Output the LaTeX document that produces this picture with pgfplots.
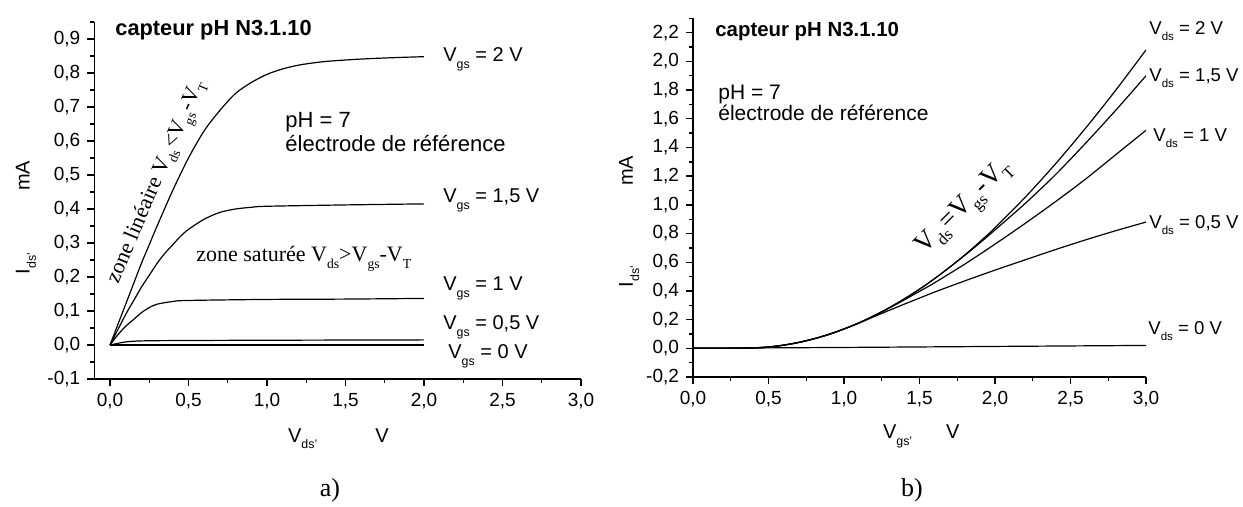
\documentclass[border=0pt]{standalone}
\usepackage{graphicx}
\usepackage{pgfplots}
\pgfplotsset{compat=1.18}
\usepackage{fontspec}
\setmainfont{Liberation Sans}
\newfontfamily\tms{Liberation Serif}
\newcommand{\sub}[1]{\raisebox{-0.6ex}{\scalebox{0.62}{#1}}}
\newcommand{\fs}[1]{\fontsize{#1}{#1}\selectfont}

\pgfplotsset{
  panel/.style={
    scale only axis, anchor=south west,
    axis x line*=bottom, axis y line*=left,
    tick align=outside, major tick length=3.5pt, minor tick length=2pt,
    every tick/.style={black, line width=0.7pt},
    axis line style={black, line width=0.75pt},
    tick label style={font=\fs{9.5}},
    label style={font=\fs{10}},
    /pgf/number format/fixed,
    /pgf/number format/fixed zerofill,
    /pgf/number format/precision=1,
    /pgf/number format/use comma,
    /pgf/number format/assume math mode=true,
  },
  curve/.style={black, line width=0.6pt, no marks, smooth},
}

\begin{document}
\begin{tikzpicture}[x=0.5pt,y=0.5pt, ann/.style={anchor=base west, inner sep=0pt}]
\useasboundingbox (0,0) rectangle (1243,507);

% a) output characteristics
\begin{axis}[panel, at={(47.15pt,64pt)}, width=243.35pt, height=178.5pt,
  xmin=-0.1, xmax=3, ymin=-0.1, ymax=0.95,
  xtick={0,0.5,1,1.5,2,2.5,3},
  ytick={-0.1,0,0.1,0.2,0.3,0.4,0.5,0.6,0.7,0.8,0.9},
  minor xtick={0.25,0.75,1.25,1.75,2.25,2.75},
  minor ytick={-0.05,0.05,0.15,0.25,0.35,0.45,0.55,0.65,0.75,0.85,0.95},
  xlabel={V\sub{ds’}\hspace{29pt}V},
  ylabel={I\sub{ds’}\hspace{31pt}mA},
  xlabel style={at={(axis description cs:0.5015,-0.1676)}, anchor=center},
  ylabel style={at={(axis description cs:-0.1405,0.4525)}, anchor=center},
]
% Vgs = 2 V
\addplot[curve] coordinates {(0,0) (0.05,0.06) (0.1,0.12) (0.15,0.18) (0.2,0.24) (0.25,0.295) (0.3,0.35) (0.4,0.455) (0.5,0.55) (0.6,0.63) (0.7,0.69) (0.8,0.74) (0.9,0.772) (1.0,0.796) (1.1,0.812) (1.2,0.823) (1.3,0.83) (1.4,0.835) (1.6,0.841) (1.8,0.845) (2.0,0.848)};
% Vgs = 1.5 V
\addplot[curve] coordinates {(0,0) (0.05,0.045) (0.1,0.09) (0.15,0.13) (0.2,0.17) (0.25,0.205) (0.3,0.24) (0.35,0.27) (0.4,0.295) (0.45,0.32) (0.5,0.34) (0.6,0.37) (0.7,0.39) (0.8,0.40) (0.9,0.405) (1.0,0.408) (1.5,0.412) (2.0,0.415)};
% Vgs = 1 V
\addplot[curve] coordinates {(0,0) (0.05,0.03) (0.1,0.055) (0.15,0.075) (0.2,0.095) (0.25,0.11) (0.3,0.12) (0.4,0.128) (0.5,0.131) (1.0,0.134) (1.5,0.135) (2.0,0.137)};
% Vgs = 0.5 V
\addplot[curve] coordinates {(0,0) (0.1,0.009) (0.2,0.012) (0.4,0.013) (1.0,0.014) (2.0,0.015)};
% Vgs = 0 V
\addplot[curve] coordinates {(0,0) (1.0,0.0) (2.0,0.0)};
\end{axis}

% b) transfer characteristics
\begin{axis}[panel, at={(346.5pt,65pt)}, width=226.5pt, height=179.3pt,
  xmin=0, xmax=3, ymin=-0.2, ymax=2.3,
  xtick={0,0.5,1,1.5,2,2.5,3},
  ytick={-0.2,0,0.2,0.4,0.6,0.8,1.0,1.2,1.4,1.6,1.8,2.0,2.2},
  minor xtick={0.25,0.75,1.25,1.75,2.25,2.75},
  minor ytick={-0.1,0.1,0.3,0.5,0.7,0.9,1.1,1.3,1.5,1.7,1.9,2.1,2.3},
  xlabel={V\sub{gs’}\hspace{17pt}V},
  ylabel={I\sub{ds’}\hspace{40pt}mA},
  xlabel style={at={(axis description cs:0.504,-0.1657)}, anchor=center},
  ylabel style={at={(axis description cs:-0.141,0.4337)}, anchor=center},
]
% Vds = 2 V
\addplot[curve] coordinates {(0,0) (0.2,0) (0.3,0.001) (0.4,0.003) (0.5,0.009) (0.6,0.022) (0.7,0.041) (0.8,0.066) (0.9,0.097) (1.0,0.135) (1.1,0.178) (1.2,0.2275) (1.3,0.283) (1.4,0.345) (1.5,0.412) (1.6,0.486) (1.7,0.5655) (1.8,0.651) (1.9,0.743) (2.0,0.8405) (2.2,1.053) (2.4,1.285) (2.6,1.535) (2.8,1.80) (3.0,2.08)};
% Vds = 1.5 V
\addplot[curve] coordinates {(0,0) (0.2,0) (0.3,0.001) (0.4,0.003) (0.5,0.009) (0.6,0.022) (0.7,0.041) (0.8,0.066) (0.9,0.097) (1.0,0.135) (1.1,0.178) (1.2,0.2275) (1.3,0.283) (1.4,0.345) (1.5,0.412) (1.6,0.486) (1.7,0.5655) (1.8,0.648) (1.9,0.735) (2.0,0.825) (2.2,1.01) (2.4,1.21) (2.6,1.43) (2.8,1.66) (3.0,1.90)};
% Vds = 1 V
\addplot[curve] coordinates {(0,0) (0.2,0) (0.3,0.001) (0.4,0.003) (0.5,0.009) (0.6,0.022) (0.7,0.041) (0.8,0.066) (0.9,0.097) (1.0,0.135) (1.1,0.178) (1.2,0.2275) (1.3,0.281) (1.4,0.338) (1.5,0.397) (1.6,0.457) (1.8,0.587) (2.0,0.726) (2.2,0.871) (2.4,1.022) (2.6,1.18) (2.8,1.35) (3.0,1.52)};
% Vds = 0.5 V
\addplot[curve] coordinates {(0,0) (0.2,0) (0.3,0.001) (0.4,0.003) (0.5,0.009) (0.6,0.022) (0.7,0.041) (0.8,0.066) (0.9,0.097) (1.0,0.134) (1.1,0.176) (1.2,0.221) (1.3,0.265) (1.4,0.308) (1.6,0.392) (1.8,0.47) (2.0,0.545) (2.2,0.617) (2.4,0.688) (2.6,0.756) (2.8,0.82) (3.0,0.88)};
% Vds = 0 V
\addplot[curve] coordinates {(0,0) (1.0,0.006) (2.0,0.013) (3.0,0.02)};
\end{axis}

% annotations, panel a)
\node[ann, font=\bfseries\fs{10.9}] at (115,471) {capteur pH N3.1.10};
\node[ann, font=\fs{11}] at (285,379) {pH = 7};
\node[ann, font=\fs{11}] at (285,355) {électrode de référence};
\begin{scope}[every node/.style={ann, font=\fs{10}}]
\node at (443,445) {V\sub{gs} = 2 V};
\node at (443,304) {V\sub{gs} = 1,5 V};
\node at (443,216) {V\sub{gs} = 1 V};
\node at (443,177) {V\sub{gs} = 0,5 V};
\node at (448,148) {V\sub{gs} = 0 V};
\end{scope}
\node[ann, font=\tms\fs{11}] at (196,245) {zone saturée V\sub{ds}>V\sub{gs}-V\sub{T}};
\node[ann, font=\tms\fs{11}, rotate=67] at (118,222) {zone linéaire V\sub{ds}<V\sub{gs}-V\sub{T}};
\node[font=\tms\fs{13}] at (330,17) {a)};

% annotations, panel b)
\node[ann, font=\bfseries\fs{10.2}] at (715,470) {capteur pH N3.1.10};
\node[ann, font=\fs{10.5}] at (718,407) {pH = 7};
\node[ann, font=\fs{10.5}] at (718,386) {électrode de référence};
\begin{scope}[every node/.style={ann, font=\fs{9.3}}]
\node at (1149,472) {V\sub{ds} = 2 V};
\node at (1149,425) {V\sub{ds} = 1,5 V};
\node at (1153,365) {V\sub{ds} = 1 V};
\node at (1149,278) {V\sub{ds} = 0,5 V};
\node at (1148,172) {V\sub{ds} = 0 V};
\end{scope}
\node[ann, font=\tms\fs{13.5}, rotate=45] at (924,252) {V\sub{ds}=V\sub{gs}-V\sub{T}};
\node[font=\tms\fs{13}] at (912,17) {b)};
\end{tikzpicture}
\end{document}
